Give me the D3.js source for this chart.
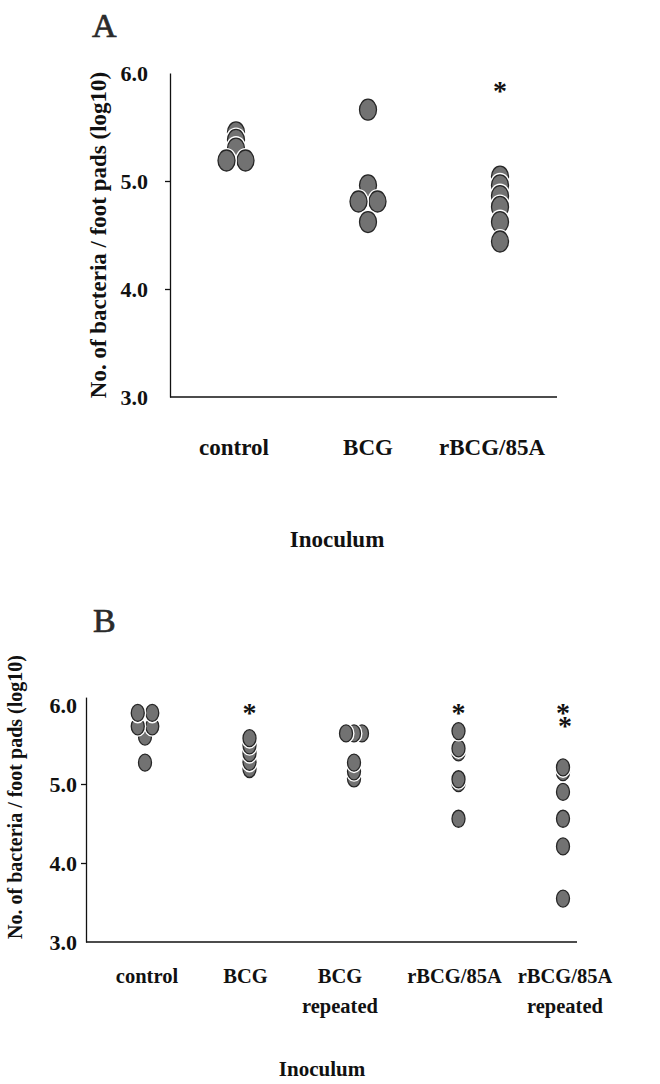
<!DOCTYPE html>
<html>
<head>
<meta charset="utf-8">
<script src="https://cdn.jsdelivr.net/npm/d3@7"></script>
<style>
	body { margin: 0; background: #fff; }
	svg text { font-family: 'Liberation Serif', 'Times New Roman', serif; font-weight: bold; fill: #111; }
</style>
</head>
<body>
<svg width="660" height="1084"></svg>
<script>
// panel A
const categoriesA = ['control', 'BCG', 'rBCG/85A'];
const valuesA = [
	[5.45, 5.38, 5.30, 5.19, 5.19],
	[5.66, 4.96, 4.81, 4.81, 4.62],
	[5.04, 4.96, 4.86, 4.76, 4.62, 4.44]
];
const starsA = ['', '', '*'];

// panel B
const categoriesB = ['control', 'BCG', 'BCG repeated', 'rBCG/85A', 'rBCG/85A repeated'];
const valuesB = [
	[5.90, 5.90, 5.73, 5.73, 5.60, 5.27],
	[5.58, 5.49, 5.39, 5.28, 5.19],
	[5.64, 5.64, 5.64, 5.27, 5.16, 5.07],
	[5.67, 5.45, 5.40, 5.06, 5.01, 4.56],
	[5.21, 5.15, 4.90, 4.56, 4.21, 3.55]
];
const starsB = ['', '*', '', '*', '**'];

const yTicks = [3, 4, 5, 6];
const yAxisLabel = 'No. of bacteria / foot pads (log10)';
const xAxisLabel = 'Inoculum';

const svg = d3.select('svg');

// spread equal values side by side
const placeDots = (vals, spacing) => {
	const counts = d3.rollup(vals, v => v.length, d => d);
	const seen = new Map();
	return vals.map(v => {
		const n = counts.get(v);
		const i = seen.get(v) || 0;
		seen.set(v, i + 1);
		const step = n > 2 ? spacing * 0.55 : spacing;
		return { value: v, offset: (i - (n - 1) / 2) * step };
	});
};

const render = p => {
	const xScale = d3.scalePoint()
		.domain(p.categories)
		.range([p.firstX, p.lastX]);

	const yScale = d3.scaleLinear()
		.domain(p.yDomain)
		.range([p.bottom, p.bottom - p.unit * (p.yDomain[1] - p.yDomain[0])]);

	const g = svg.append('g');

	// panel letter
	g.append('text')
		.attr('x', p.letterPos[0])
		.attr('y', p.letterPos[1])
		.attr('font-size', 34)
		.style('font-weight', 'normal')
		.style('fill', '#2a2a2a')
		.attr('stroke', '#2a2a2a')
		.attr('stroke-width', 0.7)
		.text(p.letter);

	const yAxis = d3.axisLeft(yScale)
		.tickValues(yTicks)
		.tickFormat(d3.format('.1f'))
		.tickSize(5)
		.tickSizeOuter(0)
		.tickPadding(p.tickPadding);

	const yAxisG = g.append('g')
		.attr('transform', `translate(${p.left}, 0)`)
		.call(yAxis);

	yAxisG.select('.domain').attr('stroke', '#111').attr('stroke-width', 1.3);
	yAxisG.selectAll('.tick line')
		.attr('stroke', '#111')
		.attr('stroke-width', 1.3)
		.filter(d => d === 3 || d === 6).remove();
	yAxisG.selectAll('.tick text')
		.attr('font-size', p.tickSize)
		.attr('font-family', null);

	// x axis line
	g.append('line')
		.attr('x1', p.left)
		.attr('x2', p.right)
		.attr('y1', yScale(3))
		.attr('y2', yScale(3))
		.attr('stroke', '#111')
		.attr('stroke-width', 1.3);

	// y axis title
	g.append('text')
		.attr('transform', `translate(${p.yTitleX}, ${p.yTitleY}) rotate(-90)`)
		.attr('text-anchor', 'middle')
		.attr('dominant-baseline', 'central')
		.attr('font-size', p.yTitleSize)
		.text(yAxisLabel);

	// category labels
	const labels = g.selectAll('.cat-label')
		.data(p.categories)
		.join('text')
		.attr('class', 'cat-label')
		.attr('text-anchor', 'middle')
		.attr('font-size', p.labelSize)
		.attr('y', p.labelY);

	labels.selectAll('tspan')
		.data((d, ci) => d.split(' ').map(t => ({ cat: d, ci, t })))
		.join('tspan')
		.attr('x', d => xScale(d.cat) + p.labelShift[d.ci])
		.attr('dy', (d, i) => i === 0 ? 0 : p.lineGap)
		.text(d => d.t);

	g.append('text')
		.attr('x', p.xTitle[0])
		.attr('y', p.xTitle[1])
		.attr('text-anchor', 'middle')
		.attr('font-size', p.titleSize)
		.text(xAxisLabel);

	// dots
	const dots = [];
	p.categories.forEach((cat, ci) => {
		placeDots(p.values[ci], p.dodge).forEach(d => dots.push({ cat, ...d }));
	});
	dots.sort((a, b) => (p.order === 'desc'
		? b.value - a.value
		: a.value - b.value) || b.offset - a.offset);

	const dotG = g.selectAll('.dot')
		.data(dots)
		.join('g')
		.attr('class', 'dot')
		.attr('transform', d => `translate(${xScale(d.cat) + d.offset}, ${yScale(d.value)})`);

	dotG.append('ellipse')
		.attr('rx', p.rx + 2)
		.attr('ry', p.ry + 2)
		.attr('fill', '#fff');

	dotG.append('ellipse')
		.attr('rx', p.rx)
		.attr('ry', p.ry)
		.attr('fill', '#727272')
		.attr('stroke', '#262626')
		.attr('stroke-width', 1.3);

	// significance stars, one text per group
	const starText = g.selectAll('.star')
		.data(p.categories.map((cat, ci) => ({ cat, s: p.stars[ci] })).filter(d => d.s))
		.join('text')
		.attr('class', 'star')
		.attr('text-anchor', 'middle')
		.attr('font-size', 28)
		.attr('y', yScale(6) + p.starTop + 12);

	starText.selectAll('tspan')
		.data(d => d.s.split('').map((c, i) => ({ cat: d.cat, c, i })))
		.join('tspan')
		.attr('x', d => xScale(d.cat) + d.i * 2)
		.attr('dy', (d, i) => i === 0 ? 0 : 13)
		.text(d => d.c);
};

render({
	letter: 'A', categories: categoriesA, values: valuesA, stars: starsA,
	yDomain: [3, 6], unit: 108, bottom: 397, left: 170, right: 557,
	firstX: 236, lastX: 500, rx: 8.5, ry: 10.5, dodge: 19, order: 'desc',
	tickPadding: 17, tickSize: 22, labelSize: 23, labelY: 455, lineGap: 29,
	labelShift: [-2, 0, -8], titleSize: 23,
	xTitle: [337, 547], yTitleX: 98, yTitleY: 235, yTitleSize: 23,
	letterPos: [92, 37], starTop: 15
});

render({
	letter: 'B', categories: categoriesB, values: valuesB, stars: starsB,
	yDomain: [3, 6.1], unit: 79, bottom: 942, left: 86, right: 577,
	firstX: 145, lastX: 563, rx: 6.5, ry: 8.5, dodge: 14.5, order: 'asc',
	tickPadding: 4, tickSize: 22, labelSize: 20.5, labelY: 983, lineGap: 30,
	labelShift: [2, -4, -14, -4, 2], titleSize: 21,
	xTitle: [322, 1076], yTitleX: 15, yTitleY: 797, yTitleSize: 20,
	letterPos: [93, 632], starTop: 5
});
</script>
</body>
</html>
